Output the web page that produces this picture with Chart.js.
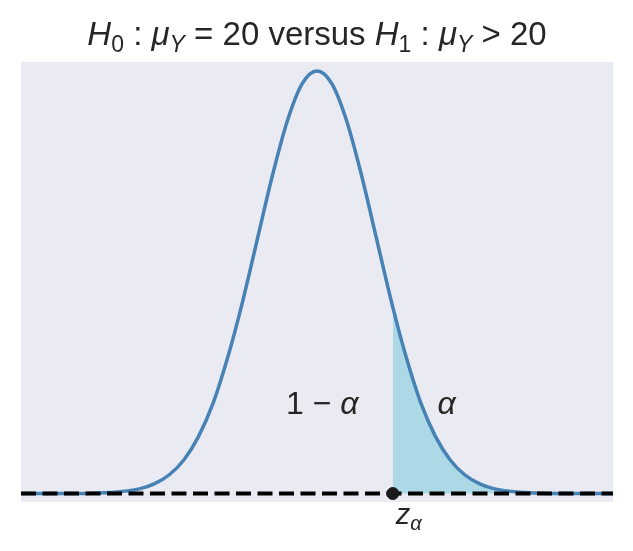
<!DOCTYPE html>
<html>
<head>
<meta charset="utf-8">
<script src="https://cdn.jsdelivr.net/npm/chart.js@4.4.1/dist/chart.umd.min.js"></script>
<style>
    html, body { margin: 0; padding: 0; background: #ffffff; }
    #testChart { display: block; }
</style>
</head>
<body>
<canvas id="testChart" width="633" height="551"></canvas>
<script>
// values (standard score on x, density on y)
var zValues = [-5, -4.5, -4, -3.5, -3, -2.75, -2.5, -2.25, -2, -1.75, -1.5, -1.28, -1, -0.75, -0.5, -0.25,
    0, 0.25, 0.5, 0.75, 1, 1.28, 1.5, 1.75, 2, 2.25, 2.5, 2.75, 3, 3.5, 4, 4.5, 5];
var density = [0, 0, 0.0001, 0.0009, 0.0044, 0.0091, 0.0175, 0.0317, 0.054, 0.086, 0.13, 0.176, 0.242, 0.301, 0.352, 0.387,
    0.399, 0.387, 0.352, 0.301, 0.242, 0.176, 0.13, 0.086, 0.054, 0.0317, 0.0175, 0.0091, 0.0044, 0.0009, 0.0001, 0, 0];
var zAlpha = 1.28;
var axisRange = [-5, 5];

(function () {
    var textColor = '#262626';
    var mathFont = '"Liberation Sans", Arial, sans-serif';

    function points(xs, ys) {
        var out = [];
        for (var i = 0; i < xs.length; i++) {
            out.push({ x: xs[i], y: ys[i] });
        }
        return out;
    }

    var curve = points(zValues, density);
    var tail = curve.filter(function (p) { return p.x >= zAlpha; });
    var baseline = axisRange.map(function (v) { return { x: v, y: 0 }; });

    // draw a run of text pieces (italic / subscript) centred on x
    function drawRich(ctx, parts, x, y, size) {
        function fontFor(p) {
            var s = p.sub ? Math.round(size * 0.7) : size;
            return (p.it ? 'italic ' : '') + s + 'px ' + mathFont;
        }
        var total = 0;
        parts.forEach(function (p) {
            ctx.font = fontFor(p);
            total += ctx.measureText(p.t).width;
        });
        var cx = x - total / 2;
        ctx.textAlign = 'left';
        ctx.textBaseline = 'alphabetic';
        ctx.fillStyle = textColor;
        parts.forEach(function (p) {
            ctx.font = fontFor(p);
            ctx.fillText(p.t, cx, p.sub ? y + size * 0.2 : y);
            cx += ctx.measureText(p.t).width;
        });
    }

    var backdrop = {
        id: 'backdrop',
        beforeDraw: function (chart) {
            var ctx = chart.ctx, a = chart.chartArea;
            ctx.save();
            ctx.fillStyle = '#ffffff';
            ctx.fillRect(0, 0, chart.width, chart.height);
            ctx.fillStyle = '#eaeaf2';
            ctx.fillRect(a.left, a.top, a.right - a.left, a.bottom - a.top);
            ctx.restore();
        }
    };

    var labels = {
        id: 'labels',
        afterDraw: function (chart) {
            var ctx = chart.ctx, a = chart.chartArea;
            var xs = chart.scales.x, ys = chart.scales.y;
            ctx.save();
            drawRich(ctx, [
                { t: 'H', it: true }, { t: '0', sub: true }, { t: ' : ' },
                { t: 'μ', it: true }, { t: 'Y', it: true, sub: true }, { t: ' = 20 versus ' },
                { t: 'H', it: true }, { t: '1', sub: true }, { t: ' : ' },
                { t: 'μ', it: true }, { t: 'Y', it: true, sub: true }, { t: ' > 20' }
            ], (a.left + a.right) / 2, 45, 33);
            drawRich(ctx, [{ t: '1 − ' }, { t: 'α', it: true }],
                xs.getPixelForValue(0.09), ys.getPixelForValue(0.075), 32);
            drawRich(ctx, [{ t: 'α', it: true }],
                xs.getPixelForValue(2.19), ys.getPixelForValue(0.075), 32);
            drawRich(ctx, [{ t: 'z', it: true }, { t: 'α', it: true, sub: true }],
                xs.getPixelForValue(zAlpha) + 16, 524, 29);
            ctx.restore();
        }
    };

    function initChart() {
        var canvas = document.getElementById('testChart');
        new Chart(canvas, {
            type: 'line',
            data: {
                datasets: [
                    {
                        type: 'scatter',
                        data: [{ x: zAlpha, y: 0 }],
                        backgroundColor: '#1a1a1a',
                        borderColor: '#1a1a1a',
                        pointRadius: 6,
                        order: 0
                    },
                    {
                        data: baseline,
                        borderColor: '#000000',
                        borderWidth: 4,
                        borderDash: [15, 6.5],
                        pointRadius: 0,
                        fill: false,
                        order: 1
                    },
                    {
                        data: curve,
                        borderColor: '#4682b4',
                        borderWidth: 3.5,
                        pointRadius: 0,
                        cubicInterpolationMode: 'monotone',
                        fill: false,
                        order: 2
                    },
                    {
                        data: tail,
                        borderWidth: 0,
                        borderColor: 'rgba(0,0,0,0)',
                        backgroundColor: '#add8e6',
                        pointRadius: 0,
                        cubicInterpolationMode: 'monotone',
                        fill: 'origin',
                        order: 3
                    }
                ]
            },
            options: {
                responsive: false,
                animation: false,
                devicePixelRatio: 1,
                layout: {
                    padding: { left: 21, right: 20, top: 62, bottom: 49 }
                },
                plugins: {
                    legend: { display: false },
                    tooltip: { enabled: false },
                    title: { display: false }
                },
                scales: {
                    x: { type: 'linear', min: axisRange[0], max: axisRange[1], display: false },
                    y: { min: -0.008, max: 0.4075, display: false }
                }
            },
            plugins: [backdrop, labels]
        });
    }

    if (document.readyState === 'loading') {
        document.addEventListener('DOMContentLoaded', initChart);
    } else {
        initChart();
    }
})();
</script>
</body>
</html>
